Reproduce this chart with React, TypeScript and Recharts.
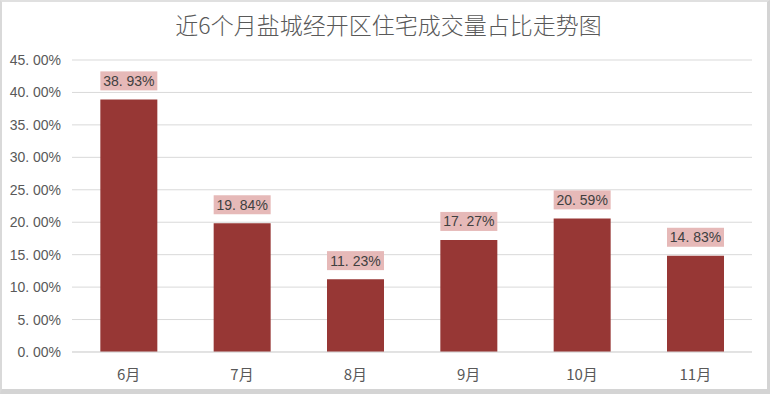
import React from 'react';
import { BarChart, Bar, XAxis, YAxis, CartesianGrid, LabelList } from 'recharts';

const months = ['6月', '7月', '8月', '9月', '10月', '11月'];
const shares = [38.93, 19.84, 11.23, 17.27, 20.59, 14.83];
const yTicks = [0, 5, 10, 15, 20, 25, 30, 35, 40, 45];
const title = '近6个月盐城经开区住宅成交量占比走势图';

const data = months.map((m, i) => ({ month: m, share: shares[i] }));

const fmt = (v: number) => {
  const s = v.toFixed(2);
  return s.replace('.', '. ') + '%';
};

const FONT = '"Liberation Sans", Arial, "Noto Sans CJK SC", sans-serif';

const DataLabel = (props: any) => {
  const { x, y, width, value } = props;
  const h = 19;
  const bottom = y - 9;
  const cx = x + width / 2;
  return (
    <g>
      <rect x={x} y={bottom - h} width={width} height={h} fill="#e6b9b8" />
      <text
        x={cx}
        y={bottom - h / 2}
        textAnchor="middle"
        dominantBaseline="central"
        fontSize={14}
        fill="#404040"
        fontFamily={FONT}
      >
        {fmt(value)}
      </text>
    </g>
  );
};

const XTick = (props: any) => {
  const { x, payload } = props;
  return (
    <text x={x} y={373} textAnchor="middle" dominantBaseline="central" fontSize={15} fill="#595959" fontFamily={'"Noto Sans CJK SC", sans-serif'}>
      {payload.value}
    </text>
  );
};

const YTick = (props: any) => {
  const { y, payload } = props;
  return (
    <text x={61} y={y} textAnchor="end" dominantBaseline="central" fontSize={14} fill="#595959" fontFamily={FONT}>
      {fmt(payload.value)}
    </text>
  );
};

export default function App() {
  return (
    <div
      style={{
        position: 'absolute',
        left: 0,
        top: 0,
        width: 770,
        height: 394,
        background: '#ffffff',
        boxSizing: 'border-box',
        borderLeft: '2px solid #d9d9d9',
        borderTop: '2px solid #e0e0e0',
        borderRight: '3px solid #d4d4d4',
        borderBottom: '5px solid #d4d4d4',
        overflow: 'hidden',
      }}
    >
      <div
        style={{
          position: 'absolute',
          left: 0,
          top: 6,
          width: 773,
          textAlign: 'center',
          fontSize: 23,
          fontWeight: 300,
          color: '#595959',
          fontFamily: '"Noto Sans CJK SC", sans-serif',
          lineHeight: '32px',
        }}
      >
        {title}
      </div>
      <div style={{ position: 'absolute', left: -2, top: -2 }}>
        <BarChart
          width={770}
          height={394}
          data={data}
          margin={{ top: 60, right: 18, bottom: 12, left: 0 }}
          barCategoryGap="25%"
        >
          <CartesianGrid vertical={false} stroke="#d9d9d9" />
          <XAxis
            dataKey="month"
            axisLine={{ stroke: '#d9d9d9' }}
            tickLine={false}
            height={30}
            tick={<XTick />}
            interval={0}
          />
          <YAxis
            width={72}
            domain={[0, 45]}
            ticks={yTicks}
            axisLine={false}
            tickLine={false}
            tick={<YTick />}
            interval={0}
          />
          <Bar dataKey="share" fill="#973735" isAnimationActive={false}>
            <LabelList dataKey="share" content={<DataLabel />} />
          </Bar>
        </BarChart>
      </div>
    </div>
  );
}
